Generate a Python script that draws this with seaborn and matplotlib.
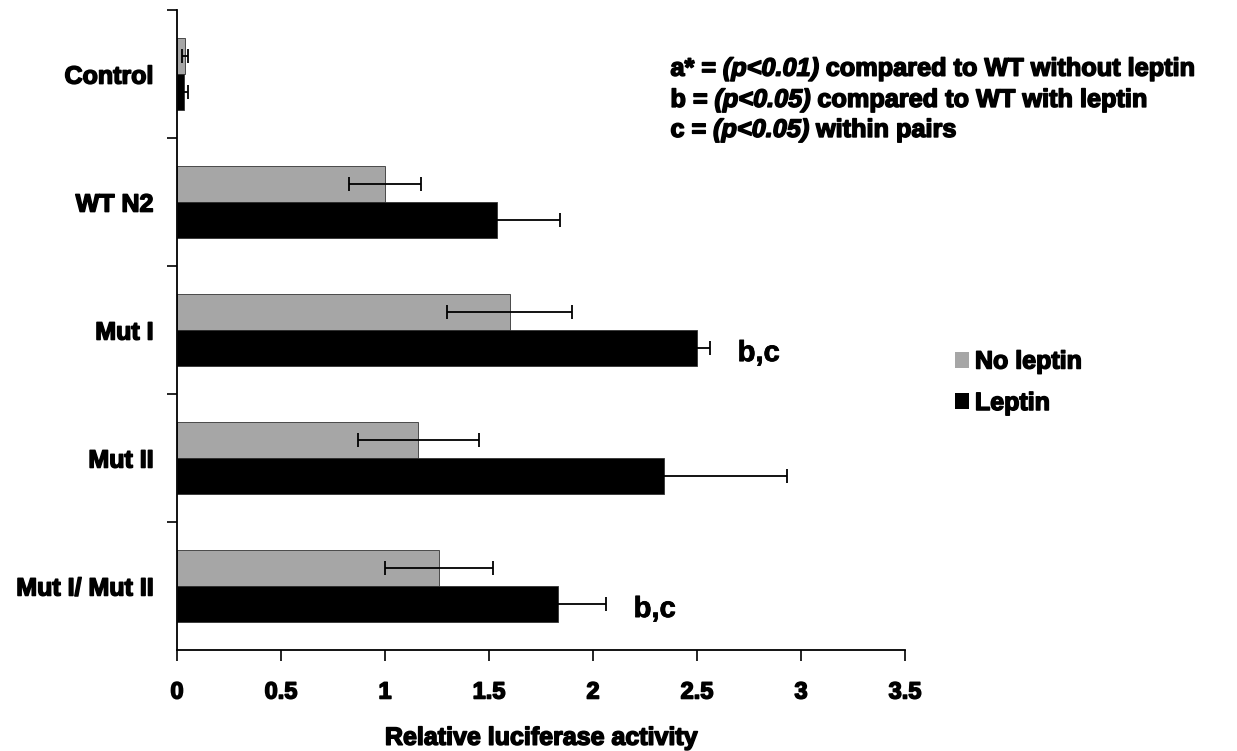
import matplotlib
matplotlib.use("Agg")
import matplotlib.pyplot as plt
import matplotlib.patheffects as pe
import seaborn as sns
import pandas as pd
import numpy as np

categories = ["Control", "WT N2", "Mut I", "Mut II", "Mut I/ Mut II"]
series = ["No leptin", "Leptin"]
no_leptin = [0.04, 1.00, 1.60, 1.16, 1.26]
no_leptin_err = [0.015, 0.175, 0.30, 0.29, 0.26]
leptin = [0.035, 1.54, 2.50, 2.34, 1.83]
leptin_err = [0.02, 0.30, 0.06, 0.59, 0.23]
xticks = [0, 0.5, 1, 1.5, 2, 2.5, 3, 3.5]
xtick_labels = ["0", "0.5", "1", "1.5", "2", "2.5", "3", "3.5"]
sig_labels = {"Mut I": "b,c", "Mut I/ Mut II": "b,c"}
notes = ["a* = ", "(p<0.01)", " compared to WT without leptin",
         "b = ", "(p<0.05)", " compared to WT with leptin",
         "c = ", "(p<0.05)", " within pairs"]

sns.set_theme(style="white")
FONT = ["Liberation Sans", "DejaVu Sans"]
plt.rcParams["font.family"] = FONT
plt.rcParams["font.weight"] = "bold"
for k in ["text.color", "axes.labelcolor", "xtick.color", "ytick.color"]:
    plt.rcParams[k] = "black"

HEAVY = [pe.withStroke(linewidth=1.1, foreground="black")]

df = pd.DataFrame({
    "category": categories * 2,
    "treatment": [series[0]] * 5 + [series[1]] * 5,
    "value": no_leptin + leptin,
})
errs = {series[0]: no_leptin_err, series[1]: leptin_err}
colors = {series[0]: "#a6a6a6", series[1]: "#000000"}

fig = plt.figure(figsize=(12.37, 7.51), dpi=100)
ax = fig.add_axes([0.1431, 0.1345, 0.5886, 0.852])

sns.barplot(data=df, y="category", x="value", hue="treatment", order=categories,
            hue_order=series, palette=colors, orient="h", width=0.56,
            errorbar=None, edgecolor="#333333", linewidth=0.6, ax=ax, legend=True)

for cont, s in zip(ax.containers, series):
    ys = [b.get_y() + b.get_height() / 2 for b in cont]
    xs = [b.get_width() for b in cont]
    ax.errorbar(xs, ys, xerr=errs[s], fmt="none", ecolor="black",
                elinewidth=1.3, capsize=5, capthick=1.3, zorder=5)

# significance labels next to Leptin bars
lep_cont = ax.containers[1]
for i, c in enumerate(categories):
    if c in sig_labels:
        b = lep_cont[i]
        ax.text(leptin[i] + leptin_err[i] + 0.135, b.get_y() + b.get_height() / 2 + 0.04,
                sig_labels[c], fontsize=21, fontweight="bold", va="center", ha="left",
                path_effects=[pe.withStroke(linewidth=0.6, foreground="black")])

ax.set_xlim(0, 3.5)
ax.set_ylim(len(categories) - 0.5, -0.5)
ax.set_xticks(xticks)
ax.set_xticklabels(xtick_labels)
ax.set_yticks(range(len(categories)))
ax.set_yticklabels(categories)
ax.set_yticks(np.arange(-0.5, len(categories) - 0.5, 1.0), minor=True)
ax.tick_params(axis="y", which="major", length=0, pad=17, labelsize=18)
ax.tick_params(axis="y", which="minor", length=7, width=1.2, color="black", direction="out", left=True)
ax.tick_params(axis="x", which="major", length=8, width=1.2, color="black", direction="out",
               bottom=True, pad=14, labelsize=17)
for t in ax.get_xticklabels() + ax.get_yticklabels():
    t.set_path_effects(HEAVY)
for sp in ["top", "right"]:
    ax.spines[sp].set_visible(False)
for sp in ["left", "bottom"]:
    ax.spines[sp].set_color("black")
    ax.spines[sp].set_linewidth(1.3)
ax.set_xlabel("Relative luciferase activity", fontsize=18, fontweight="bold", labelpad=16,
              path_effects=HEAVY)
ax.set_ylabel("")

leg = ax.legend(loc="center left", bbox_to_anchor=(0.772, 0.491), bbox_transform=fig.transFigure,
                frameon=False, borderaxespad=0, borderpad=0,
                fontsize=18, handlelength=0.55, handleheight=0.6, handletextpad=0.25,
                labelspacing=0.7)
for t in leg.get_texts():
    t.set_fontweight("bold")
    t.set_path_effects(HEAVY)
for h in leg.legend_handles:
    h.set_linewidth(0)

# annotation notes (three lines, p-values italic)
line_y = [0.9085, 0.867, 0.827]
for li in range(3):
    parts = notes[li * 3: li * 3 + 3]
    x = 0.542
    for j, p in enumerate(parts):
        t = fig.text(x, line_y[li], p, fontsize=18.2, fontweight="bold",
                     fontstyle="italic" if j == 1 else "normal", va="center", ha="left",
                     path_effects=HEAVY)
        fig.canvas.draw()
        bb = t.get_window_extent()
        x = bb.x1 / fig.bbox.width

fig.savefig("out.png", dpi=100)
